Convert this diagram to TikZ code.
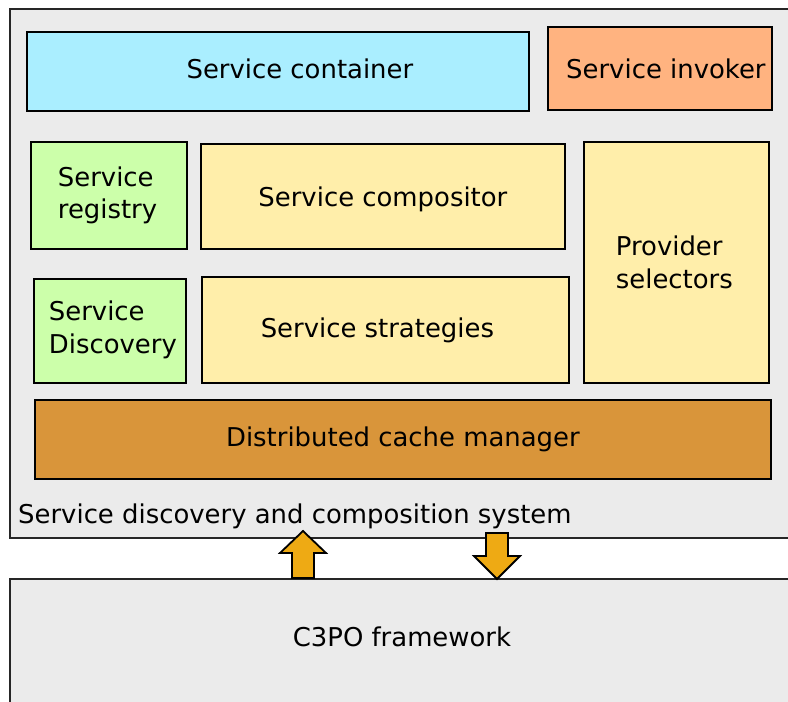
\documentclass[tikz,border=0pt]{standalone}
\usepackage{fontspec}
\setmainfont{DejaVu Sans}
\definecolor{bggray}{HTML}{EBEBEB}
\definecolor{cyanbox}{HTML}{AAEEFF}
\definecolor{orangebox}{HTML}{FFB380}
\definecolor{greenbox}{HTML}{CCFFAA}
\definecolor{yellowbox}{HTML}{FFEEAA}
\definecolor{cachebox}{HTML}{D9953A}
\definecolor{arrowfill}{HTML}{EEAA14}
\begin{document}
\begin{tikzpicture}[x=1pt,y=-1pt,
  every node/.style={font=\fontsize{25.9}{32.8}\selectfont, text=black},
  box/.style={draw=black, line width=1.8pt, anchor=north west, inner sep=0pt},
  frame/.style={draw=black!85, line width=1.8pt, fill=bggray},
  blockarrow/.style={draw=black, line width=1.8pt, fill=arrowfill, line join=miter}]
\useasboundingbox (0,0) rectangle (788,702);
\clip (0,0) rectangle (788,702);
\fill[white] (0,0) rectangle (788,702);
% outer frames
\draw[frame] (10,9) rectangle (800,538);
\draw[frame] (10,579) rectangle (800,720);
% boxes
\node[box, fill=cyanbox, minimum width=502pt, minimum height=79pt] (container) at (26,31) {\hspace{44pt}\raisebox{3pt}[\height][\depth]{Service container}};
\node[box, fill=orangebox, minimum width=224pt, minimum height=83pt] (invoker) at (547,26) {\hspace{12pt}Service invoker};
\node[box, fill=greenbox, minimum width=156pt, minimum height=107pt, text width=102pt, inner xsep=27pt, align=left] (registry) at (30,141) {Service\\registry};
\node[box, fill=yellowbox, minimum width=364pt, minimum height=105pt] (compositor) at (200,143) {\raisebox{-3pt}[\height][\depth]{Service compositor}};
\node[box, fill=yellowbox, minimum width=185pt, minimum height=241pt, text width=121pt, inner xsep=32pt, align=left] (selectors) at (583,141) {Provider\\selectors};
\node[box, fill=greenbox, minimum width=152pt, minimum height=104pt, text width=122pt, inner xsep=15pt, align=left] (discovery) at (33,278) {\raisebox{7pt}{\parbox[b]{130pt}{Service\\Discovery}}};
\node[box, fill=yellowbox, minimum width=367pt, minimum height=106pt] (strategies) at (201,276) {\hspace{-16pt}Service strategies};
\node[box, fill=cachebox, minimum width=736pt, minimum height=79pt] (cache) at (34,399) {Distributed cache manager};
% labels
\node[anchor=base west, inner sep=0pt] (syslabel) at (18,523) {Service discovery and composition system};
\node[inner sep=0pt] (c3po) at (402,637) {C3PO framework};
% block arrows
\draw[blockarrow] (292,578) -- (292,553) -- (280,553) -- (303,531) -- (326,553) -- (314,553) -- (314,578) -- cycle;
\draw[blockarrow] (486,533) -- (508,533) -- (508,556) -- (520,556) -- (497,579) -- (474,556) -- (486,556) -- cycle;
\end{tikzpicture}
\end{document}
